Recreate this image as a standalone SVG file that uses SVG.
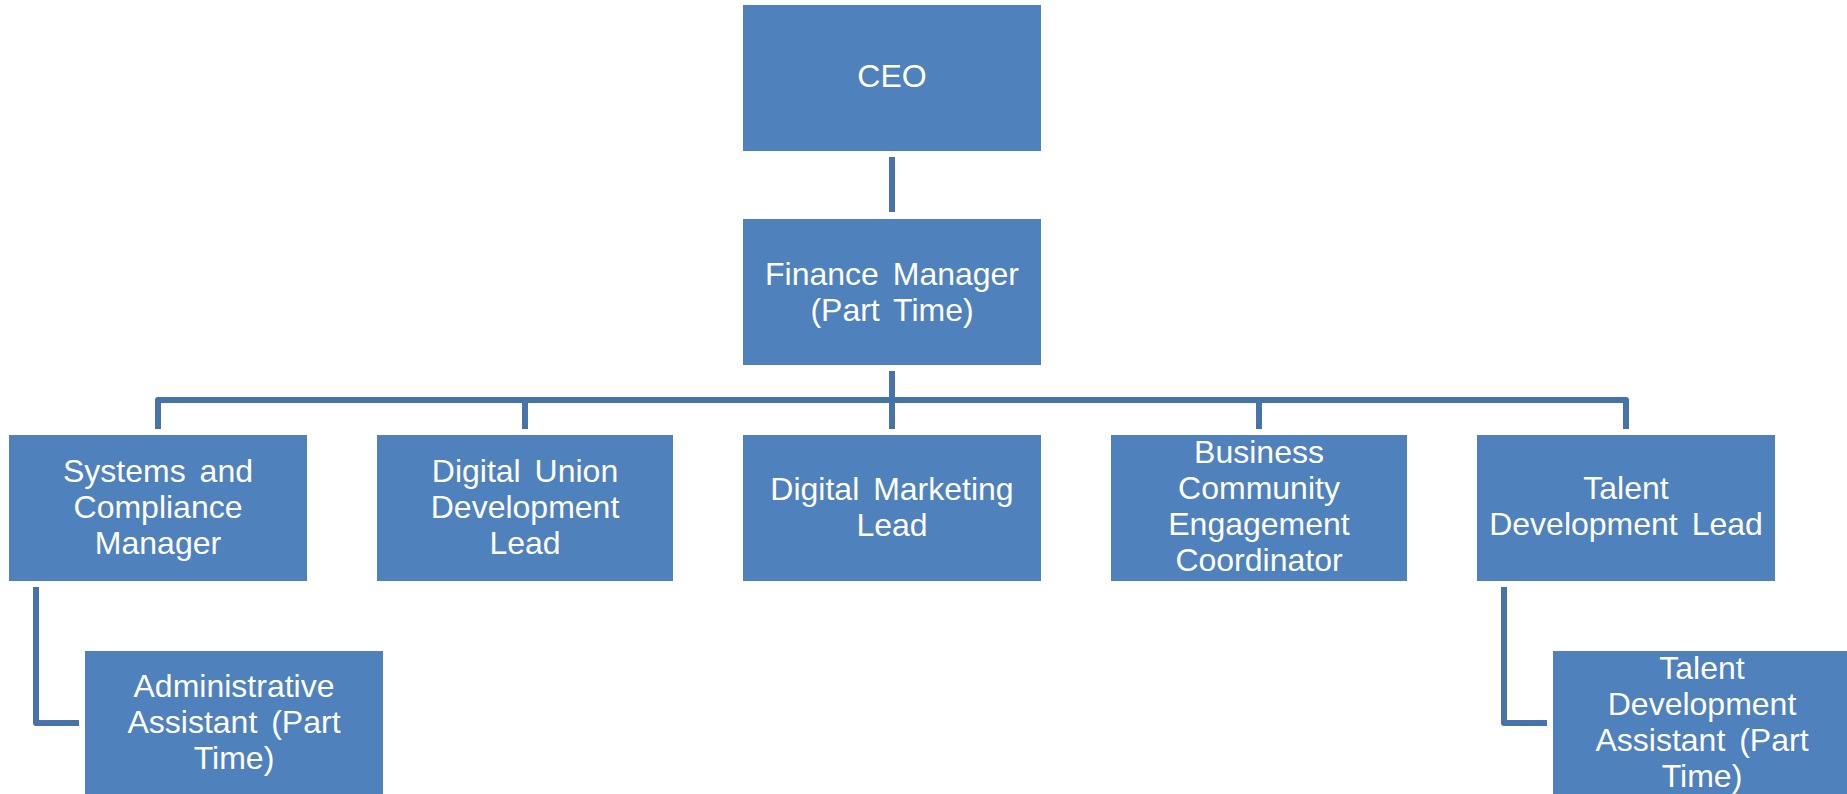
<svg xmlns="http://www.w3.org/2000/svg" width="1847" height="794" viewBox="0 0 1847 794">
  <style>
    .box { fill: #4F81BD; }
    .lbl { fill: #FFFFFF; font-family: "Liberation Sans", Arial, sans-serif; font-size: 32px; text-anchor: middle; word-spacing: 5px; }
    .wire { fill: none; stroke: #4673AA; stroke-width: 6; stroke-linejoin: round; }
  </style>
  <rect width="1847" height="794" fill="#FFFFFF"/>

  <g id="connectors">
    <line class="wire" x1="892" y1="157" x2="892" y2="212"/>
    <line class="wire" x1="892" y1="371" x2="892" y2="400"/>
    <path class="wire" d="M158,429 V400 H1626 V429"/>
    <line class="wire" x1="525" y1="400" x2="525" y2="429"/>
    <line class="wire" x1="892" y1="400" x2="892" y2="429"/>
    <line class="wire" x1="1259" y1="400" x2="1259" y2="429"/>
    <path class="wire" d="M36,587 V723 H79"/>
    <path class="wire" d="M1504,587 V723 H1547"/>
  </g>

  <g id="ceo">
    <rect class="box" x="743" y="5" width="298" height="146"/>
    <text class="lbl" x="892" y="87">CEO</text>
  </g>

  <g id="finance-manager">
    <rect class="box" x="743" y="219" width="298" height="146"/>
    <text class="lbl" x="892" y="285">Finance Manager</text>
    <text class="lbl" x="892" y="321">(Part Time)</text>
  </g>

  <g id="systems-compliance">
    <rect class="box" x="9" y="435" width="298" height="146"/>
    <text class="lbl" x="158" y="482">Systems and</text>
    <text class="lbl" x="158" y="518">Compliance</text>
    <text class="lbl" x="158" y="554">Manager</text>
  </g>

  <g id="digital-union">
    <rect class="box" x="377" y="435" width="296" height="146"/>
    <text class="lbl" x="525" y="482">Digital Union</text>
    <text class="lbl" x="525" y="518">Development</text>
    <text class="lbl" x="525" y="554">Lead</text>
  </g>

  <g id="digital-marketing">
    <rect class="box" x="743" y="435" width="298" height="146"/>
    <text class="lbl" x="892" y="500">Digital Marketing</text>
    <text class="lbl" x="892" y="536">Lead</text>
  </g>

  <g id="business-community">
    <rect class="box" x="1111" y="435" width="296" height="146"/>
    <text class="lbl" x="1259" y="463">Business</text>
    <text class="lbl" x="1259" y="499">Community</text>
    <text class="lbl" x="1259" y="535">Engagement</text>
    <text class="lbl" x="1259" y="571">Coordinator</text>
  </g>

  <g id="talent-lead">
    <rect class="box" x="1477" y="435" width="298" height="146"/>
    <text class="lbl" x="1626" y="499">Talent</text>
    <text class="lbl" x="1626" y="535">Development Lead</text>
  </g>

  <g id="admin-assistant">
    <rect class="box" x="85" y="651" width="298" height="146"/>
    <text class="lbl" x="234" y="697">Administrative</text>
    <text class="lbl" x="234" y="733">Assistant (Part</text>
    <text class="lbl" x="234" y="769">Time)</text>
  </g>

  <g id="talent-assistant">
    <rect class="box" x="1553" y="651" width="298" height="146"/>
    <text class="lbl" x="1702" y="679">Talent</text>
    <text class="lbl" x="1702" y="715">Development</text>
    <text class="lbl" x="1702" y="751">Assistant (Part</text>
    <text class="lbl" x="1702" y="787">Time)</text>
  </g>
</svg>
